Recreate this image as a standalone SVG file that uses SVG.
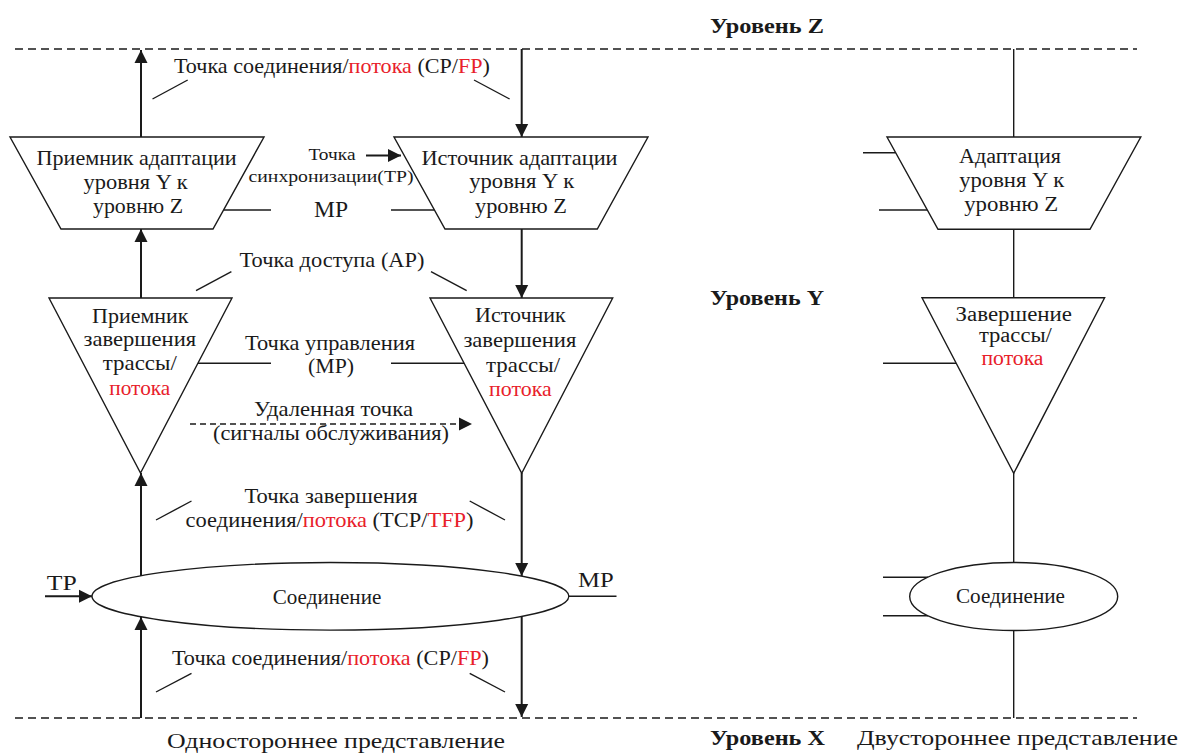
<svg xmlns="http://www.w3.org/2000/svg" width="1179" height="753" viewBox="0 0 1179 753">
  <style>
    text { font-family: "Liberation Serif", "Times New Roman", serif; fill: #1a1a1a; }
    .t { font-size: 22px; text-anchor: middle; }
    .s { font-size: 17px; text-anchor: middle; }
    .r { font-size: 20px; text-anchor: middle; }
    .b { font-size: 22px; font-weight: bold; }
    .red { fill: #e8202a; }
    .shape { fill: #ffffff; stroke: #1a1a1a; stroke-width: 1.4; }
    .line { stroke: #1a1a1a; stroke-width: 1.4; fill: none; }
    .arrow { stroke: #1a1a1a; stroke-width: 2; fill: none; marker-end: url(#head); }
    .dash { stroke: #1a1a1a; stroke-width: 1.6; stroke-dasharray: 8 5; fill: none; }
  </style>
  <defs>
    <marker id="head" markerUnits="userSpaceOnUse" markerWidth="14" markerHeight="14" refX="13" refY="7" orient="auto">
      <path d="M0,0.5 L13,7 L0,13.5 z" fill="#1a1a1a"/>
    </marker>
  </defs>

  <rect width="1179" height="753" fill="#ffffff"/>

  <!-- layer boundaries -->
  <g id="layers">
    <line class="dash" x1="15" y1="49" x2="1137" y2="49"/>
    <line class="dash" x1="15" y1="718" x2="1137" y2="718"/>
    <text class="b" x="710" y="33" textLength="114" lengthAdjust="spacingAndGlyphs">Уровень Z</text>
    <text class="b" x="710" y="305" textLength="114" lengthAdjust="spacingAndGlyphs">Уровень Y</text>
    <text class="b" x="710" y="745" textLength="115" lengthAdjust="spacingAndGlyphs">Уровень X</text>
    <text style="font-size:22px" x="857" y="745" textLength="321" lengthAdjust="spacingAndGlyphs">Двустороннее представление</text>
    <text class="t" x="336" y="748" textLength="338" lengthAdjust="spacingAndGlyphs">Одностороннее представление</text>
  </g>

  <!-- connectors of the one-way view -->
  <g id="connectors">
    <line class="arrow" x1="141" y1="137" x2="141" y2="50"/>
    <line class="arrow" x1="521.7" y1="49" x2="521.7" y2="137"/>
    <line class="arrow" x1="141" y1="298" x2="141" y2="229"/>
    <line class="arrow" x1="521.7" y1="229" x2="521.7" y2="298"/>
    <line class="arrow" x1="141" y1="576" x2="141" y2="473"/>
    <line class="arrow" x1="521.7" y1="473" x2="521.7" y2="576"/>
    <line class="arrow" x1="141" y1="718" x2="141" y2="617"/>
    <line class="arrow" x1="521.7" y1="617" x2="521.7" y2="717"/>
    <!-- TP input and MP stub on the connection -->
    <line class="arrow" x1="45" y1="596.3" x2="92" y2="596.3"/>
    <line class="line" x1="569" y1="596.3" x2="616.5" y2="596.3"/>
    <!-- synchronisation point -->
    <line class="arrow" x1="366" y1="155.5" x2="401" y2="155.5"/>
    <!-- management point stubs -->
    <line class="line" x1="223.5" y1="210" x2="271" y2="210"/>
    <line class="line" x1="391" y1="210" x2="434.5" y2="210"/>
    <line class="line" x1="197.7" y1="363.3" x2="271" y2="363.3"/>
    <line class="line" x1="391" y1="363.3" x2="464.2" y2="363.3"/>
    <!-- remote point (maintenance signals) -->
    <line class="dash" style="stroke-dasharray:6 4" x1="190" y1="424" x2="460" y2="424"/>
    <path d="M459,417.5 L472,424 L459,430.5 z" fill="#1a1a1a"/>
    <!-- leader lines to labels -->
    <line class="line" x1="152.5" y1="99" x2="187.7" y2="80"/>
    <line class="line" x1="474" y1="80" x2="509.6" y2="99"/>
    <line class="line" x1="196" y1="290.7" x2="231.4" y2="271.7"/>
    <line class="line" x1="431" y1="271.7" x2="466.7" y2="290.7"/>
    <line class="line" x1="156" y1="520" x2="191.5" y2="501"/>
    <line class="line" x1="469.7" y1="501" x2="505" y2="520"/>
    <line class="line" x1="156" y1="692" x2="191.5" y2="673.3"/>
    <line class="line" x1="469.7" y1="673.3" x2="505" y2="692"/>
  </g>

  <!-- connectors of the two-way view -->
  <g id="connectors-bidir">
    <line class="line" x1="1013.7" y1="49" x2="1013.7" y2="137"/>
    <line class="line" x1="1013.7" y1="229" x2="1013.7" y2="298"/>
    <line class="line" x1="1013.7" y1="473" x2="1013.7" y2="562.5"/>
    <line class="line" x1="1013.7" y1="630.5" x2="1013.7" y2="718"/>
    <line class="line" x1="863" y1="152.7" x2="895.7" y2="152.7"/>
    <line class="line" x1="879" y1="210" x2="927.5" y2="210"/>
    <line class="line" x1="883" y1="363.3" x2="956.3" y2="363.3"/>
    <line class="line" x1="883" y1="577.3" x2="928" y2="577.3"/>
    <line class="line" x1="883" y1="615.7" x2="928" y2="615.7"/>
  </g>

  <!-- edge labels -->
  <g id="labels">
    <text class="t" x="332" y="73" textLength="316" lengthAdjust="spacingAndGlyphs">Точка соединения/<tspan class="red">потока</tspan> (CP/<tspan class="red">FP</tspan>)</text>
    <text class="s" x="332" y="160" textLength="47" lengthAdjust="spacingAndGlyphs">Точка</text>
    <text class="s" x="331" y="181.7" textLength="165" lengthAdjust="spacingAndGlyphs">синхронизации(TP)</text>
    <text class="t" x="331" y="216.7" style="font-size:24px" textLength="34" lengthAdjust="spacingAndGlyphs">MP</text>
    <text class="t" x="332" y="267" textLength="185" lengthAdjust="spacingAndGlyphs">Точка доступа (AP)</text>
    <text class="t" x="330" y="350" textLength="170" lengthAdjust="spacingAndGlyphs">Точка управления</text>
    <text class="t" x="331" y="373" textLength="46" lengthAdjust="spacingAndGlyphs">(MP)</text>
    <text class="t" x="333.5" y="416" textLength="159" lengthAdjust="spacingAndGlyphs">Удаленная точка</text>
    <text class="t" x="331" y="440" textLength="236" lengthAdjust="spacingAndGlyphs">(сигналы обслуживания)</text>
    <text class="t" x="331" y="503" textLength="173" lengthAdjust="spacingAndGlyphs">Точка завершения</text>
    <text class="t" x="329.6" y="527" textLength="288" lengthAdjust="spacingAndGlyphs">соединения/<tspan class="red">потока</tspan> (TCP/<tspan class="red">TFP</tspan>)</text>
    <text class="t" x="330.5" y="665" textLength="317" lengthAdjust="spacingAndGlyphs">Точка соединения/<tspan class="red">потока</tspan> (CP/<tspan class="red">FP</tspan>)</text>
    <text class="t" x="61.7" y="590" textLength="30" lengthAdjust="spacingAndGlyphs">TP</text>
    <text class="t" x="595.8" y="587" textLength="35.6" lengthAdjust="spacingAndGlyphs">MP</text>
  </g>

  <!-- adaptation sink -->
  <g id="adapt-sink">
    <polygon class="shape" points="10,137 264,137 213,229 61,229"/>
    <text class="t" x="136.6" y="165" textLength="200" lengthAdjust="spacingAndGlyphs">Приемник адаптации</text>
    <text class="t" x="135.6" y="188.5" textLength="104" lengthAdjust="spacingAndGlyphs">уровня Y к</text>
    <text class="t" x="138" y="213" textLength="90" lengthAdjust="spacingAndGlyphs">уровню Z</text>
  </g>

  <!-- adaptation source -->
  <g id="adapt-source">
    <polygon class="shape" points="394,137 648,137 597.3,229 445,229"/>
    <text class="t" x="519.5" y="165" textLength="196" lengthAdjust="spacingAndGlyphs">Источник адаптации</text>
    <text class="t" x="521.7" y="188.3" textLength="105" lengthAdjust="spacingAndGlyphs">уровня Y к</text>
    <text class="t" x="521" y="213.3" textLength="92" lengthAdjust="spacingAndGlyphs">уровню Z</text>
  </g>

  <!-- trail termination sink -->
  <g id="trail-sink">
    <polygon class="shape" points="49,298 232,298 140.5,473"/>
    <text class="t" x="140.3" y="322.7" textLength="96.5" lengthAdjust="spacingAndGlyphs">Приемник</text>
    <text class="t" x="139.8" y="346" textLength="112.6" lengthAdjust="spacingAndGlyphs">завершения</text>
    <text class="t" x="139.8" y="370" textLength="74" lengthAdjust="spacingAndGlyphs">трассы/</text>
    <text class="t red" x="139.8" y="395" textLength="61" lengthAdjust="spacingAndGlyphs">потока</text>
  </g>

  <!-- trail termination source -->
  <g id="trail-source">
    <polygon class="shape" points="430,298 612.7,298 521.7,473.3"/>
    <text class="t" x="520.4" y="322.3" textLength="90.7" lengthAdjust="spacingAndGlyphs">Источник</text>
    <text class="t" x="519.9" y="346.7" textLength="113" lengthAdjust="spacingAndGlyphs">завершения</text>
    <text class="t" x="523" y="371.7" textLength="74" lengthAdjust="spacingAndGlyphs">трассы/</text>
    <text class="t red" x="520.4" y="396" textLength="62.7" lengthAdjust="spacingAndGlyphs">потока</text>
  </g>

  <!-- connection, one-way view -->
  <g id="connection">
    <ellipse class="shape" cx="330.4" cy="596.3" rx="238.4" ry="33.8"/>
    <text class="t" x="327" y="604" textLength="108.6" lengthAdjust="spacingAndGlyphs">Соединение</text>
  </g>

  <!-- adaptation, two-way view -->
  <g id="adapt-bidir">
    <polygon class="shape" points="887,137 1140.8,137 1090,229.3 938,229.3"/>
    <text class="r" x="1010" y="162.7" textLength="102" lengthAdjust="spacingAndGlyphs">Адаптация</text>
    <text class="r" x="1011.7" y="186.7" textLength="105" lengthAdjust="spacingAndGlyphs">уровня Y к</text>
    <text class="r" x="1011.2" y="210.7" textLength="94" lengthAdjust="spacingAndGlyphs">уровню Z</text>
  </g>

  <!-- trail termination, two-way view -->
  <g id="trail-bidir">
    <polygon class="shape" points="922,297.7 1104.6,297.7 1013.7,473.3"/>
    <text class="r" x="1013.8" y="320.7" textLength="116.4" lengthAdjust="spacingAndGlyphs">Завершение</text>
    <text class="r" x="1015.4" y="342" textLength="73" lengthAdjust="spacingAndGlyphs">трассы/</text>
    <text class="r red" x="1012.5" y="365" textLength="62" lengthAdjust="spacingAndGlyphs">потока</text>
  </g>

  <!-- connection, two-way view -->
  <g id="connection-bidir">
    <ellipse class="shape" cx="1013.7" cy="596.5" rx="104" ry="34"/>
    <text class="r" x="1010.5" y="603.3" textLength="109" lengthAdjust="spacingAndGlyphs">Соединение</text>
  </g>
</svg>
